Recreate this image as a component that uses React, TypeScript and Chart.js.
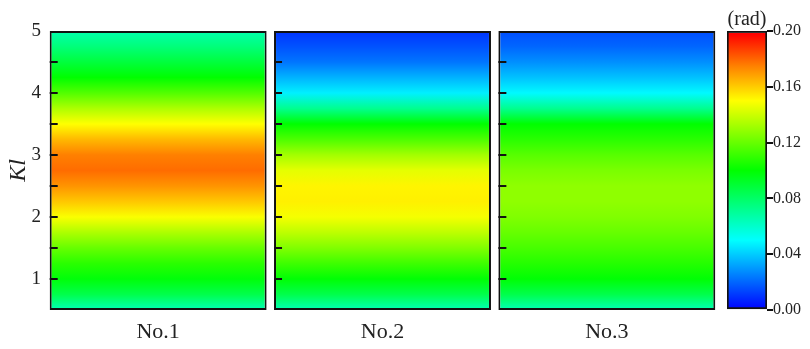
import React, { useEffect, useRef } from "react";
import { Chart, registerables } from "chart.js";

Chart.register(...registerables);

const PANELS = ["No.1", "No.2", "No.3"];
const KL = [0.5, 0.75, 1, 1.25, 1.5, 1.75, 2, 2.25, 2.5, 2.75, 3, 3.25, 3.5, 3.75, 4, 4.25, 4.5, 4.75, 5];
const NO1 = [0.064, 0.085, 0.098, 0.108, 0.12, 0.134, 0.149, 0.161, 0.171, 0.179, 0.175, 0.164, 0.15, 0.134, 0.116, 0.1, 0.088, 0.076, 0.066];
const NO2 = [0.064, 0.085, 0.099, 0.112, 0.125, 0.137, 0.148, 0.153, 0.152, 0.145, 0.132, 0.115, 0.1, 0.072, 0.047, 0.035, 0.023, 0.016, 0.01];
const NO3 = [0.064, 0.085, 0.099, 0.107, 0.114, 0.12, 0.125, 0.128, 0.128, 0.124, 0.117, 0.108, 0.1, 0.072, 0.049, 0.038, 0.028, 0.02, 0.015];
const SERIES = [NO1, NO2, NO3];
const Y_LABELS = [1, 2, 3, 4, 5];
const CBAR_MIN = 0;
const CBAR_MAX = 0.2;
const CBAR_STEP = 0.04;
// colormap stops: value -> rgb
const CMAP_VALUES = [0, 0.05, 0.1, 0.15, 0.175, 0.2];
const CMAP_COLORS = [
  [0, 0, 255],
  [0, 255, 255],
  [0, 255, 0],
  [255, 255, 0],
  [255, 128, 0],
  [255, 0, 0],
];

const FONT = "'Liberation Serif', 'Times New Roman', serif";

function cmap(v: number): string {
  if (v <= CMAP_VALUES[0]) return `rgb(${CMAP_COLORS[0].join(",")})`;
  for (let i = 1; i < CMAP_VALUES.length; i++) {
    if (v <= CMAP_VALUES[i]) {
      const t = (v - CMAP_VALUES[i - 1]) / (CMAP_VALUES[i] - CMAP_VALUES[i - 1]);
      const a = CMAP_COLORS[i - 1];
      const b = CMAP_COLORS[i];
      const c = a.map((x, k) => Math.round(x + (b[k] - x) * t));
      return `rgb(${c.join(",")})`;
    }
  }
  return `rgb(${CMAP_COLORS[CMAP_COLORS.length - 1].join(",")})`;
}

function panelGradient(ctx: any) {
  const chart = ctx.chart;
  const y = chart.scales.y;
  if (!chart.chartArea || !y) return "#00ff80";
  const series = SERIES[ctx.dataIndex];
  const top = y.getPixelForValue(5);
  const bot = y.getPixelForValue(0.5);
  const g = chart.ctx.createLinearGradient(0, top, 0, bot);
  KL.forEach((k, i) => {
    const p = (y.getPixelForValue(k) - top) / (bot - top);
    g.addColorStop(Math.min(1, Math.max(0, p)), cmap(series[i]));
  });
  return g;
}

function cbarGradient(ctx: any) {
  const chart = ctx.chart;
  const y = chart.scales.y;
  if (!chart.chartArea || !y) return "#00ff00";
  const top = y.getPixelForValue(CBAR_MAX);
  const bot = y.getPixelForValue(CBAR_MIN);
  const g = chart.ctx.createLinearGradient(0, top, 0, bot);
  CMAP_VALUES.forEach((v, i) => {
    const p = (y.getPixelForValue(v) - top) / (bot - top);
    g.addColorStop(Math.min(1, Math.max(0, p)), cmap(v));
  });
  g.addColorStop(0.008, "#999999");
  g.addColorStop(0.009, cmap(CBAR_MAX));
  g.addColorStop(0, "#999999");
  return g;
}

const innerTicks = {
  id: "innerTicks",
  afterDatasetsDraw(chart: any) {
    const { ctx } = chart;
    const y = chart.scales.y;
    const meta = chart.getDatasetMeta(0);
    ctx.save();
    ctx.strokeStyle = "#111";
    ctx.lineWidth = 2;
    meta.data.forEach((bar: any) => {
      const x0 = bar.x - bar.width / 2;
      for (let v = 1; v <= 4.5; v += 0.5) {
        const py = Math.round(y.getPixelForValue(v));
        ctx.beginPath();
        ctx.moveTo(x0, py);
        ctx.lineTo(x0 + 8, py);
        ctx.stroke();
      }
    });
    ctx.restore();
  },
};

const radTitle = {
  id: "radTitle",
  afterDraw(chart: any) {
    const { ctx, chartArea } = chart;
    ctx.save();
    ctx.fillStyle = "#222";
    ctx.font = `20px ${FONT}`;
    ctx.textAlign = "center";
    ctx.textBaseline = "alphabetic";
    ctx.fillText("(rad)", (chartArea.left + chartArea.right) / 2, chartArea.top - 6);
    ctx.restore();
  },
};

export default function App() {
  const mainRef = useRef<HTMLCanvasElement>(null);
  const barRef = useRef<HTMLCanvasElement>(null);

  useEffect(() => {
    const main = new Chart(mainRef.current!, {
      type: "bar",
      data: {
        labels: PANELS,
        datasets: [
          {
            data: PANELS.map(() => [KL[0], KL[KL.length - 1]]) as any,
            backgroundColor: panelGradient as any,
            borderColor: "#111",
            borderWidth: 2,
            borderSkipped: false,
            barPercentage: 0.967,
            categoryPercentage: 1,
          },
        ],
      },
      options: {
        animation: false,
        responsive: false,
        maintainAspectRatio: false,
        layout: { padding: { top: 31, right: 6, left: 0, bottom: 0 } },
        plugins: { legend: { display: false }, tooltip: { enabled: false } },
        scales: {
          x: {
            grid: { display: false, drawTicks: false },
            border: { display: false },
            ticks: { color: "#222", font: { family: FONT, size: 22 }, padding: 9 },
            afterFit: (s: any) => { s.height = 39; },
          },
          y: {
            min: 0.5,
            max: 5,
            grid: { display: false, drawTicks: false },
            border: { display: false },
            ticks: {
              stepSize: 0.5,
              color: "#222",
              padding: 5,
              font: { family: FONT, size: 19 },
              callback: (v: any) => (Y_LABELS.includes(Number(v)) ? String(v) : ""),
            },
            title: {
              display: true,
              text: "Kl",
              color: "#222",
              font: { family: FONT, size: 24, style: "italic" },
              padding: { top: 4, bottom: 0 },
            },
            afterFit: (s: any) => { s.width = 46; },
          },
        },
      },
      plugins: [innerTicks],
    });

    const cbar = new Chart(barRef.current!, {
      type: "bar",
      data: {
        labels: ["c"],
        datasets: [
          {
            data: [[CBAR_MIN, CBAR_MAX]] as any,
            backgroundColor: cbarGradient as any,
            borderColor: "#111",
            borderWidth: 2,
            borderSkipped: false,
            barPercentage: 1,
            categoryPercentage: 1,
          },
        ],
      },
      options: {
        animation: false,
        responsive: false,
        maintainAspectRatio: false,
        layout: { padding: { top: 31, left: 27, right: 0, bottom: 39 } },
        plugins: { legend: { display: false }, tooltip: { enabled: false } },
        scales: {
          x: { display: false },
          y: {
            position: "right",
            min: CBAR_MIN,
            max: CBAR_MAX,
            border: { display: false },
            grid: { drawOnChartArea: false, drawTicks: true, tickLength: 6, color: "#111", lineWidth: 2 },
            ticks: {
              stepSize: CBAR_STEP,
              color: "#222",
              padding: 0,
              font: { family: FONT, size: 16 },
              callback: (v: any) => Number(v).toFixed(2),
            },
            afterFit: (s: any) => { s.width = 43; },
          },
        },
      },
      plugins: [radTitle],
    });

    return () => {
      main.destroy();
      cbar.destroy();
    };
  }, []);

  return (
    <div style={{ position: "fixed", left: 0, top: 0, width: 810, height: 349, background: "#fff" }}>
      <canvas ref={mainRef} width={725} height={349} style={{ position: "absolute", left: 0, top: 0 }} />
      <canvas ref={barRef} width={110} height={349} style={{ position: "absolute", left: 700, top: 0 }} />
    </div>
  );
}
